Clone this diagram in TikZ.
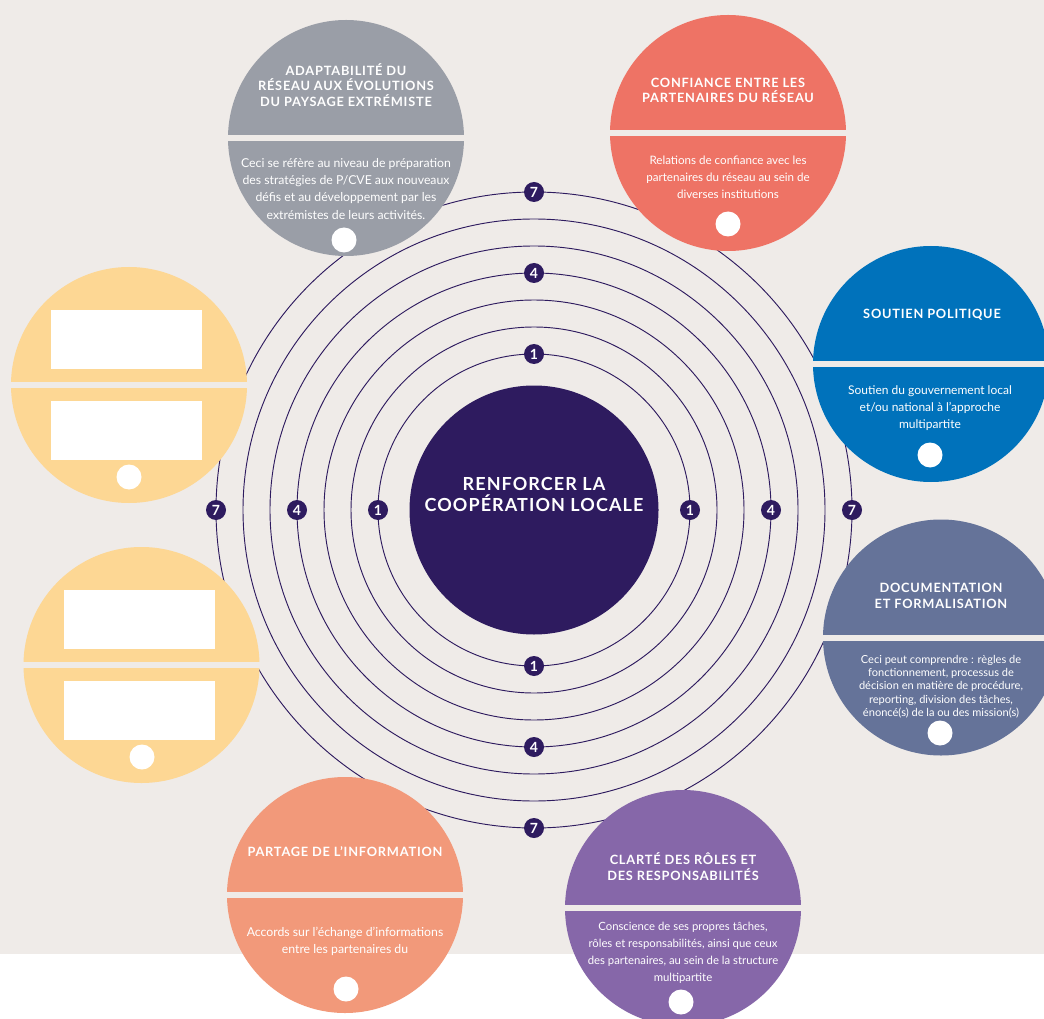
\documentclass[tikz,border=0pt]{standalone}
\usepackage{fontspec}
\setmainfont{Lato}
\newfontfamily\capsfont{Lato}[LetterSpace=6]

\definecolor{paper}{HTML}{EFEBE8}
\definecolor{navy}{HTML}{2E1B5F}
\definecolor{slategrey}{HTML}{9A9EA7}
\definecolor{coral}{HTML}{EE7365}
\definecolor{deepblue}{HTML}{0072BB}
\definecolor{slate}{HTML}{657399}
\definecolor{violet}{HTML}{8667A9}
\definecolor{salmon}{HTML}{F2997A}
\definecolor{sand}{HTML}{FDD794}

\begin{document}
\begin{tikzpicture}
[x=0.75pt,y=-0.75pt,
 ring/.style={draw=navy,line width=0.7pt},
 badge/.style={circle,fill=navy,text=white,inner sep=0pt,minimum size=15pt,
   font=\bfseries\fontsize{10.5}{10.5}\selectfont},
 petal/.style={circle,fill=#1,inner sep=0pt,minimum size=177pt},
 cut/.style={fill=paper,inner sep=0pt,minimum width=180pt,minimum height=4.5pt},
 head/.style={text=white,align=center,font=\capsfont\bfseries\fontsize{9.6}{11.8}\selectfont},
 body/.style={text=white,align=center,font=\fontsize{#1}{12.8}\selectfont},
 knob/.style={circle,fill=white,inner sep=0pt,minimum size=18.75pt}]

\fill[white] (0,0) rectangle (1044,1019);
\fill[paper] (0,0) rectangle (1044,954);
\useasboundingbox (0,0) rectangle (1044,1019);

\coordinate (O) at (534,510);
\foreach \k [evaluate=\k as \r using 156+27*\k] in {0,...,6}
  \draw[ring] (O) circle [radius=\r];

\node[circle,fill=navy,inner sep=0pt,minimum size=186.75pt] (core) at (O) {};
\path (O) +(0,-15.5) node[text=white,align=center,
  font=\capsfont\bfseries\fontsize{13.5}{15.75}\selectfont] (coretext)
  {RENFORCER LA\\COOPÉRATION LOCALE};

\foreach \n/\k in {1/0,4/3,7/6}
  \foreach \a in {0,90,180,270}
    \path (O) +(\a:156+27*\k) node[badge] (b\n-\a) {\n};

\node[petal=slategrey] (adapt) at (346,138) {};
\node[cut] (adaptcut) at (adapt) {};
\node[head] (adapthead) at (346,85) {ADAPTABILITÉ DU\\RÉSEAU AUX ÉVOLUTIONS\\DU PAYSAGE EXTRÉMISTE};
\node[body=9.2] (adaptbody) at (346,189) {Ceci se réfère au niveau de préparation\\des stratégies de P/CVE aux nouveaux\\défis et au développement par les\\extrémistes de leurs activités.};
\node[knob] (adaptknob) at (344,240) {};

\node[petal=coral] (trust) at (728,133) {};
\node[cut] (trustcut) at (trust) {};
\node[head] (trusthead) at (728,90.5) {CONFIANCE ENTRE LES\\PARTENAIRES DU RÉSEAU};
\node[body=8.7] (trustbody) at (728,177) {Relations de confiance avec les\\partenaires du réseau au sein de\\diverses institutions};
\node[knob] (trustknob) at (728,224) {};

\node[petal=deepblue] (polit) at (931,364) {};
\node[cut] (politcut) at (polit) {};
\node[head] (polithead) at (932,315) {SOUTIEN POLITIQUE};
\node[body=9] (politbody) at (930,408) {Soutien du gouvernement local\\et/ou national à l’approche\\multipartite};
\node[knob] (politknob) at (930,455) {};

\node[petal=slate] (docu) at (941,637.5) {};
\node[cut] (docucut) at (docu) {};
\node[head] (docuhead) at (941,596) {DOCUMENTATION\\ET FORMALISATION};
\node[body=8.3,font=\fontsize{8.3}{10}\selectfont] (docubody) at (941,686.5) {Ceci peut comprendre : règles de\\fonctionnement, processus de\\décision en matière de procédure,\\reporting, division des tâches,\\énoncé(s) de la ou des mission(s)};
\node[knob] (docuknob) at (940,733) {};

\node[petal=violet] (roles) at (683,908) {};
\node[cut] (rolescut) at (roles) {};
\node[head] (roleshead) at (683,866.5) {CLARTÉ DES RÔLES ET\\DES RESPONSABILITÉS};
\node[body=8.5] (rolesbody) at (683,953) {Conscience de ses propres tâches,\\rôles et responsabilités, ainsi que ceux\\des partenaires, au sein de la structure\\multipartite};
\node[knob] (rolesknob) at (681,1002) {};

\node[petal=salmon] (share) at (345,895) {};
\node[cut] (sharecut) at (share) {};
\node[head] (sharehead) at (345,852) {PARTAGE DE L’INFORMATION};
\node[body=9.2] (sharebody) at (345,941.5) {Accords sur l’échange d’informations\\entre les partenaires du};
\node[knob] (shareknob) at (346,989) {};

\node[petal=sand] (blankA) at (129,385) {};
\node[cut] (blankAcut) at (blankA) {};
\fill[white] (51,310) rectangle (202,369);
\fill[white] (51,401) rectangle (202,460);
\node[knob] (blankAknob) at (129,477) {};

\node[petal=sand] (blankB) at (141.5,665) {};
\node[cut] (blankBcut) at (blankB) {};
\fill[white] (64,590) rectangle (215,649);
\fill[white] (64,681) rectangle (215,740);
\node[knob] (blankBknob) at (142,757) {};

\end{tikzpicture}
\end{document}
